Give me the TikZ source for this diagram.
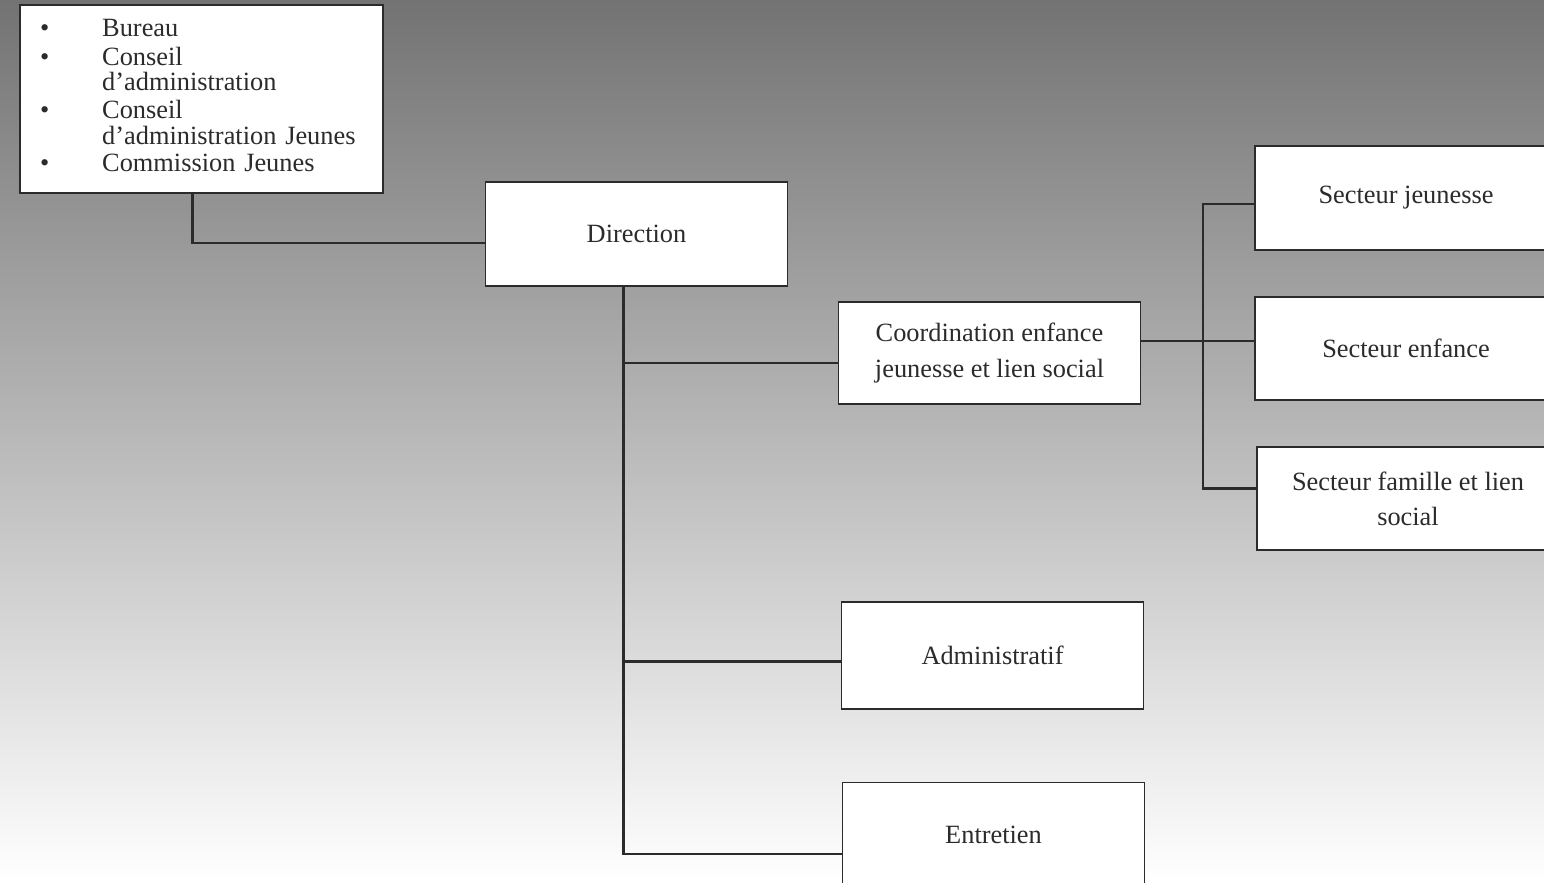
\documentclass[tikz,border=0pt]{standalone}
\usepackage{fontspec}
\setmainfont{Liberation Serif}
\usetikzlibrary{positioning,calc}
\definecolor{ink}{HTML}{2B2B2B}

\begin{document}
\begin{tikzpicture}[x=0.02cm, y=-0.02cm,
    unit/.style={rectangle, draw=ink, line width=1pt, fill=white, text=ink, minimum width=6.04cm, minimum height=2.08cm, align=center, font=\fontsize{15}{20}\selectfont},
    listbox/.style={rectangle, draw=ink, line width=1pt, fill=white, text=ink, minimum width=7.26cm, minimum height=3.76cm, inner xsep=0.4cm, text width=6.46cm, align=left, font=\fontsize{15}{13}\selectfont},
    link/.style={draw=ink, line width=1.2pt}
]
    % scanned page background
    \shade[top color=black!55, bottom color=white] (0,0) rectangle (1544,882);
    \useasboundingbox (0,0) rectangle (1544,882);

    % Instances
    \node[listbox] (conseils) at (201.5,99) {%
        \begin{tabular}{@{}l@{\hspace{1.06cm}}l@{}}
        \textbullet & Bureau\\[2pt]
        \textbullet & Conseil\\
                    & d’administration\\[2pt]
        \textbullet & Conseil\\
                    & d’administration Jeunes\\[2pt]
        \textbullet & Commission Jeunes
        \end{tabular}};

    % Direction and services
    \node[unit] (direction) at (636.5,234) {Direction};
    \node[unit, minimum height=2.04cm] (coordination) at (989.5,353) {Coordination enfance\\jeunesse et lien social};
    \node[unit, minimum height=2.14cm] (administratif) at (992.5,655.5) {Administratif};
    \node[unit, minimum height=2.1cm] (entretien) at (993.5,835) {Entretien};

    % Secteurs
    \node[unit] (jeunesse) at (1406,198) {Secteur jeunesse};
    \node[unit, minimum height=2.06cm] (enfance) at (1406,348.5) {Secteur enfance};
    \node[unit, minimum height=2.06cm] (famille) at (1408,498.5) {Secteur famille et lien\\social};

    % Links
    \coordinate (trunk) at ([xshift=-0.26cm]direction.south);
    \coordinate (bus) at ([xshift=-1.02cm, yshift=0.15cm]enfance.west);
    \draw[link] ([xshift=-0.18cm]conseils.south) |- ([yshift=-0.18cm]direction.west);
    \draw[link] (trunk) |- ([yshift=-0.2cm]coordination.west);
    \draw[link] (trunk) |- ([yshift=-0.12cm]administratif.west);
    \draw[link] (trunk) |- ([yshift=-0.38cm]entretien.west);
    \draw[link] ([yshift=0.24cm]coordination.east) -- ([yshift=0.24cm]coordination.east -| enfance.west);
    \draw[link] ([yshift=-0.12cm]jeunesse.west) -| (bus) |- ([yshift=0.2cm]famille.west);
\end{tikzpicture}
\end{document}
